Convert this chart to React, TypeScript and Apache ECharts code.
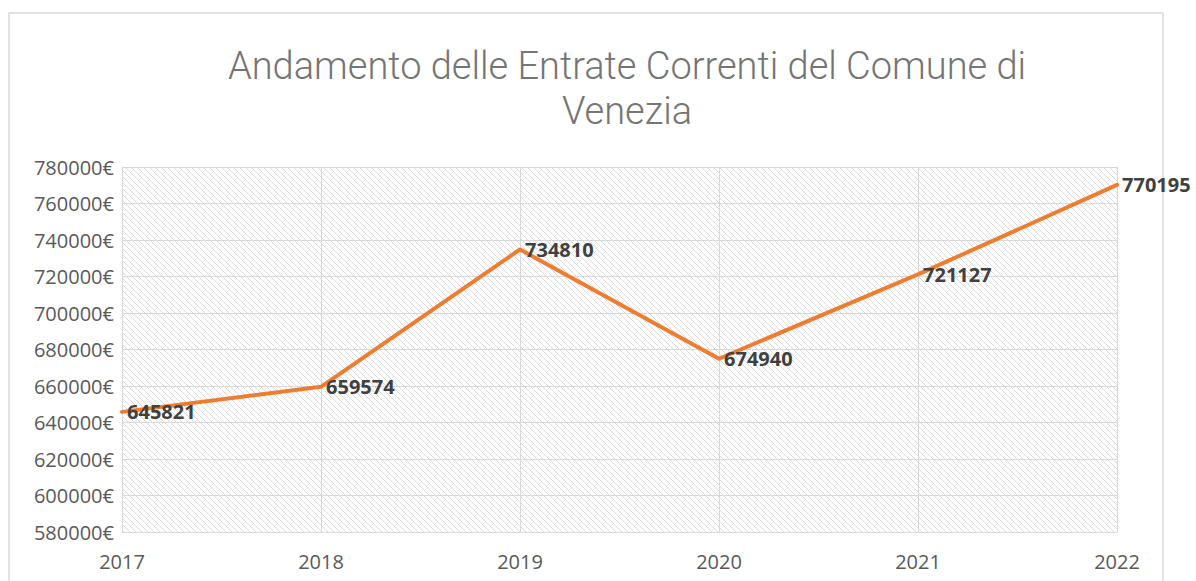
import React, { useEffect, useRef } from "react";
import * as echarts from "echarts";

const years = ["2017", "2018", "2019", "2020", "2021", "2022"];
const entrate = [645821, 659574, 734810, 674940, 721127, 770195];
const titleText = "Andamento delle Entrate Correnti del Comune di\nVenezia";

const GRID = { left: 122, right: 79, top: 167, bottom: 49 };
const W = 1196;
const H = 581;

const hatchSvg =
  "data:image/svg+xml;utf8," +
  encodeURIComponent(
    '<svg xmlns="http://www.w3.org/2000/svg" width="6" height="6">' +
      '<path d="M-1,-1 L7,7 M-1,5 L1,7 M5,-1 L7,1" stroke="#dadada" stroke-width="1"/>' +
      "</svg>"
  );

export default function App() {
  const ref = useRef<HTMLDivElement>(null);
  useEffect(() => {
    document.body.style.margin = "0";
    const chart = echarts.init(ref.current!, null, { renderer: "svg" });
    const font = "'Open Sans', sans-serif";
    chart.setOption({
      animation: false,
      backgroundColor: "#ffffff",
      title: {
        text: titleText,
        left: 622,
        top: 39,
        textAlign: "center",
        textStyle: {
          fontFamily: "Roboto, sans-serif",
          fontWeight: 300,
          fontSize: 38,
          lineHeight: 44.8,
          color: "#757575",
        },
      },
      graphic: [
        {
          type: "rect",
          z: -10,
          silent: true,
          shape: { x: 9, y: 13, width: 1154, height: 620 },
          style: { fill: "#ffffff", stroke: "#d9d9d9", lineWidth: 1.5 },
        },
        {
          type: "rect",
          z: -5,
          silent: true,
          shape: {
            x: GRID.left,
            y: GRID.top,
            width: W - GRID.left - GRID.right,
            height: H - GRID.top - GRID.bottom,
          },
          style: {
            fill: { image: hatchSvg, repeat: "repeat", imageWidth: 6, imageHeight: 6 },
          },
        },
      ],
      grid: { ...GRID, containLabel: false },
      xAxis: {
        type: "category",
        data: years,
        boundaryGap: false,
        axisLine: { show: true, lineStyle: { color: "#d9d9d9", width: 1 } },
        axisTick: { show: false },
        splitLine: { show: true, lineStyle: { color: "#d9d9d9", width: 1 } },
        axisLabel: {
          fontFamily: font,
          fontSize: 20,
          color: "#595959",
          margin: 19,
        },
      },
      yAxis: {
        type: "value",
        min: 580000,
        max: 780000,
        interval: 20000,
        axisLine: { show: false },
        axisTick: { show: false },
        splitLine: { show: true, lineStyle: { color: "#d9d9d9", width: 1 } },
        axisLabel: {
          fontFamily: font,
          fontSize: 20,
          color: "#595959",
          margin: 8,
          formatter: (v: number) => `${v}€`,
        },
      },
      series: [
        {
          type: "line",
          data: entrate,
          symbol: "circle",
          symbolSize: 0.1,
          showSymbol: true,
          lineStyle: { color: "#ED7D31", width: 4, cap: "round", join: "round" },
          itemStyle: { color: "#ED7D31" },
          label: {
            show: true,
            position: "right",
            distance: 5,
            fontFamily: font,
            fontWeight: "bold",
            fontSize: 20,
            color: "#404040",
          },
          z: 5,
        },
      ],
    });
    return () => chart.dispose();
  }, []);
  return <div ref={ref} style={{ width: W, height: H }} />;
}
